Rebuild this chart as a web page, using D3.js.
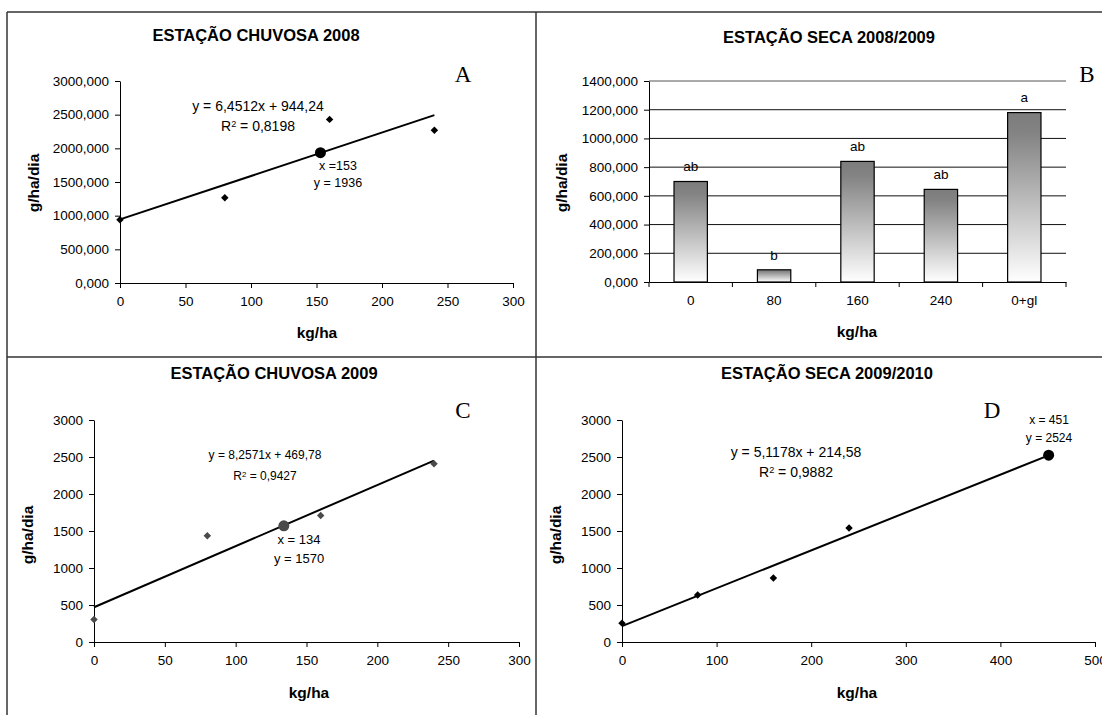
<!DOCTYPE html>
<html>
<head>
<meta charset="utf-8">
<script src="https://cdn.jsdelivr.net/npm/d3@7"></script>
<style>
  body { margin: 0; background: #fff; }
  text { font-family: "Liberation Sans", Arial, sans-serif; }
</style>
</head>
<body>
<div id="chart"></div>
<script>
// A - estação chuvosa 2008
const aDose = [0, 80, 160, 240];
const aValue = [940, 1265, 2430, 2270];
const aOptimum = [153, 1936];
const aFit = [6.4512, 944.24];
const aTicksY = [0, 500, 1000, 1500, 2000, 2500, 3000];

// B - estação seca 2008/2009
const bCategories = ["0", "80", "160", "240", "0+gl"];
const bValue = [700, 85, 840, 645, 1180];
const bLetters = ["ab", "b", "ab", "ab", "a"];
const bTicksY = [0, 200, 400, 600, 800, 1000, 1200, 1400];

// C - estação chuvosa 2009
const cDose = [0, 80, 160, 240];
const cValue = [305, 1435, 1710, 2410];
const cOptimum = [134, 1570];
const cFit = [8.2571, 469.78];

// D - estação seca 2009/2010
const dDose = [0, 80, 160, 240];
const dValue = [255, 635, 865, 1540];
const dOptimum = [451, 2524];
const dFit = [5.1178, 214.58];

const width = 1102;
const height = 715;
const font = "Liberation Sans, Arial, sans-serif";
const comma3 = d3.formatLocale({decimal: ",", thousands: ".", grouping: [3], currency: ["", ""]}).format(".3f");

const svg = d3.select("#chart")
    .append("svg")
    .attr("width", width)
    .attr("height", height)
    .attr("viewBox", `0 0 ${width} ${height}`);

// gradient for the bars (dark at top, white at bottom)
const grad = svg.append("defs").append("linearGradient")
    .attr("id", "barFill")
    .attr("x1", 0).attr("y1", 0).attr("x2", 0).attr("y2", 1);
grad.append("stop").attr("offset", "0%").attr("stop-color", "#7c7c7c");
grad.append("stop").attr("offset", "12%").attr("stop-color", "#838383");
grad.append("stop").attr("offset", "100%").attr("stop-color", "#ffffff");

// table borders around the four panels
const borders = svg.append("g").attr("stroke", "#333").attr("stroke-width", 1.5);
borders.append("line").attr("x1", 7).attr("x2", width).attr("y1", 12).attr("y2", 12);
borders.append("line").attr("x1", 7).attr("x2", 7).attr("y1", 12).attr("y2", height);
borders.append("line").attr("x1", 536).attr("x2", 536).attr("y1", 12).attr("y2", height);
borders.append("line").attr("x1", 7).attr("x2", width).attr("y1", 357).attr("y2", 357);

function styleAxis(g) {
    g.attr("font-family", font).attr("font-size", 13.5);
    g.selectAll("text").attr("fill", "#000");
    g.selectAll("line, path").attr("stroke", "#000");
}

function titles(p) {
    svg.append("text")
        .attr("x", p.title[0]).attr("y", p.title[1]).attr("dy", "0.35em")
        .attr("text-anchor", "middle")
        .style("font-size", "16.5px").style("font-weight", "bold")
        .text(p.titleText);
    svg.append("text")
        .attr("x", p.xTitle[0]).attr("y", p.xTitle[1]).attr("dy", "0.35em")
        .attr("text-anchor", "middle")
        .style("font-size", "15.5px").style("font-weight", "bold")
        .text("kg/ha");
    svg.append("text")
        .attr("transform", `translate(${p.yTitle[0]},${p.yTitle[1]}) rotate(-90)`)
        .attr("dy", "0.35em")
        .attr("text-anchor", "middle")
        .style("font-size", "15.5px").style("font-weight", "bold")
        .text("g/ha/dia");
    // panel letter sits in a white box
    svg.append("rect")
        .attr("x", p.letter[0] - 14).attr("y", p.letter[1] - 16)
        .attr("width", 30).attr("height", 32)
        .attr("fill", "#fff");
    svg.append("text")
        .attr("x", p.letter[0]).attr("y", p.letter[1]).attr("dy", "0.35em")
        .attr("text-anchor", "middle")
        .style("font-family", "Liberation Serif, Times New Roman, serif")
        .style("font-size", "23px")
        .text(p.letterText);
}

function scatterPanel(p) {
    const x = d3.scaleLinear().domain(p.xDomain).range([p.left, p.right]);
    const y = d3.scaleLinear().domain([0, 3000]).range([p.bottom, p.top]);

    svg.append("g")
        .attr("transform", `translate(0,${p.bottom})`)
        .call(d3.axisBottom(x).tickValues(p.xTicks).tickSize(5).tickPadding(8).tickSizeOuter(0))
        .call(styleAxis);

    svg.append("g")
        .attr("transform", `translate(${p.left},0)`)
        .call(d3.axisLeft(y).tickValues(aTicksY).tickSize(5).tickPadding(6).tickSizeOuter(0)
            .tickFormat(p.yFormat))
        .call(styleAxis);

    titles(p);

    // trend line drawn over the fitted range
    const x0 = p.dose[0];
    const x1 = p.fitTo;
    svg.append("line")
        .attr("x1", x(x0)).attr("y1", y(p.fit[0] * x0 + p.fit[1]))
        .attr("x2", x(x1)).attr("y2", y(p.fit[0] * x1 + p.fit[1]))
        .attr("stroke", "#000")
        .attr("stroke-width", 2);

    // square markers turned 45 degrees (Excel style diamonds)
    svg.append("g").selectAll("path")
        .data(p.dose)
        .enter()
        .append("path")
        .attr("transform", (d, i) => `translate(${x(d)},${y(p.value[i])}) rotate(45)`)
        .attr("d", d3.symbol().type(d3.symbolSquare).size(28))
        .attr("fill", p.markColor);

    svg.append("circle")
        .attr("cx", x(p.optimum[0]))
        .attr("cy", y(p.optimum[1]))
        .attr("r", 5.5)
        .attr("fill", p.markColor);

    const eq = svg.append("g").style("font-size", p.eqSize + "px");
    eq.append("text")
        .attr("x", p.eqPos[0]).attr("y", p.eqPos[1]).attr("dy", "0.35em")
        .attr("text-anchor", "middle")
        .text(p.eqText);
    const r2 = eq.append("text")
        .attr("x", p.eqPos[0]).attr("y", p.eqPos[1] + p.eqGap).attr("dy", "0.35em")
        .attr("text-anchor", "middle");
    r2.append("tspan").text("R");
    r2.append("tspan").attr("dy", "-0.45em").style("font-size", "0.65em").text("2");
    r2.append("tspan").attr("dy", "0.3em").text(" = " + p.r2Text);

    const opt = svg.append("g").style("font-size", p.optSize + "px");
    opt.append("text")
        .attr("x", p.optPos[0]).attr("y", p.optPos[1]).attr("dy", "0.35em")
        .attr("text-anchor", "middle")
        .text(p.optText[0]);
    opt.append("text")
        .attr("x", p.optPos[0]).attr("y", p.optPos[1] + p.optGap).attr("dy", "0.35em")
        .attr("text-anchor", "middle")
        .text(p.optText[1]);
}

// ---- A
scatterPanel({
    left: 120, right: 513, top: 81, bottom: 283,
    xDomain: [0, 300], xTicks: [0, 50, 100, 150, 200, 250, 300],
    yFormat: comma3,
    dose: aDose, value: aValue, optimum: aOptimum, fit: aFit, fitTo: 240,
    markColor: "#000",
    title: [256, 35], titleText: "ESTAÇÃO CHUVOSA 2008",
    xTitle: [317, 333], yTitle: [34, 183],
    letter: [463, 74], letterText: "A",
    eqPos: [258, 106], eqGap: 20, eqSize: 14, eqText: "y = 6,4512x + 944,24", r2Text: "0,8198",
    optPos: [338, 166], optGap: 17, optSize: 12.5, optText: ["x =153", "y = 1936"]
});

// ---- C
scatterPanel({
    left: 94, right: 519, top: 420, bottom: 642,
    xDomain: [0, 300], xTicks: [0, 50, 100, 150, 200, 250, 300],
    yFormat: d3.format("d"),
    dose: cDose, value: cValue, optimum: cOptimum, fit: cFit, fitTo: 240,
    markColor: "#4a4a4a",
    title: [274, 373], titleText: "ESTAÇÃO CHUVOSA 2009",
    xTitle: [309, 693], yTitle: [28, 535],
    letter: [463, 410], letterText: "C",
    eqPos: [265, 455], eqGap: 21, eqSize: 12, eqText: "y = 8,2571x + 469,78", r2Text: "0,9427",
    optPos: [299, 539], optGap: 19, optSize: 13, optText: ["x = 134", "y =  1570"]
});

// ---- D
scatterPanel({
    left: 622, right: 1095, top: 420, bottom: 642,
    xDomain: [0, 500], xTicks: [0, 100, 200, 300, 400, 500],
    yFormat: d3.format("d"),
    dose: dDose, value: dValue, optimum: dOptimum, fit: dFit, fitTo: dOptimum[0],
    markColor: "#000",
    title: [827, 373], titleText: "ESTAÇÃO SECA 2009/2010",
    xTitle: [857, 693], yTitle: [556, 535],
    letter: [992, 410], letterText: "D",
    eqPos: [796, 452], eqGap: 20, eqSize: 14, eqText: "y = 5,1178x + 214,58", r2Text: "0,9882",
    optPos: [1049, 420], optGap: 18, optSize: 12, optText: ["x = 451", "y = 2524"]
});

// ---- B (bars)
const bLeft = 649, bRight = 1066, bTop = 81, bBottom = 282;
const xB = d3.scaleBand()
    .domain(bCategories)
    .range([bLeft, bRight])
    .paddingInner(0.6)
    .paddingOuter(0.3);
const yB = d3.scaleLinear().domain([0, 1400]).range([bBottom, bTop]);

// gridlines
svg.append("g").selectAll("line")
    .data(bTicksY.slice(1))
    .enter()
    .append("line")
    .attr("x1", bLeft).attr("x2", bRight)
    .attr("y1", d => yB(d)).attr("y2", d => yB(d))
    .attr("stroke", d => d === 1400 ? "#555" : "#111")
    .attr("stroke-width", 1);

svg.append("g")
    .attr("transform", `translate(${bLeft},0)`)
    .call(d3.axisLeft(yB).tickValues(bTicksY).tickSize(5).tickPadding(6).tickSizeOuter(0).tickFormat(comma3))
    .call(styleAxis);

const xAxisB = svg.append("g")
    .attr("transform", `translate(0,${bBottom})`)
    .call(d3.axisBottom(xB).tickSize(0).tickPadding(13).tickSizeOuter(0))
    .call(styleAxis);
// category boundary ticks
xAxisB.selectAll(".boundary")
    .data(d3.range(bCategories.length + 1))
    .enter()
    .append("line")
    .attr("class", "boundary")
    .attr("x1", i => xB.range()[0] + i * xB.step())
    .attr("x2", i => xB.range()[0] + i * xB.step())
    .attr("y1", 0).attr("y2", 5)
    .attr("stroke", "#000");

svg.append("g").selectAll("rect")
    .data(bValue)
    .enter()
    .append("rect")
    .attr("x", (d, i) => xB(bCategories[i]))
    .attr("y", d => yB(d))
    .attr("width", xB.bandwidth())
    .attr("height", d => bBottom - yB(d))
    .attr("fill", "url(#barFill)")
    .attr("stroke", "#000")
    .attr("stroke-width", 1.2);

svg.append("g").selectAll("text")
    .data(bValue)
    .enter()
    .append("text")
    .attr("x", (d, i) => xB(bCategories[i]) + xB.bandwidth() / 2)
    .attr("y", d => yB(d) - 15)
    .attr("dy", "0.35em")
    .attr("text-anchor", "middle")
    .style("font-size", "13.5px")
    .text((d, i) => bLetters[i]);

titles({
    title: [829, 37], titleText: "ESTAÇÃO SECA 2008/2009",
    xTitle: [857, 332], yTitle: [562, 183],
    letter: [1087, 74], letterText: "B"
});
</script>
</body>
</html>
